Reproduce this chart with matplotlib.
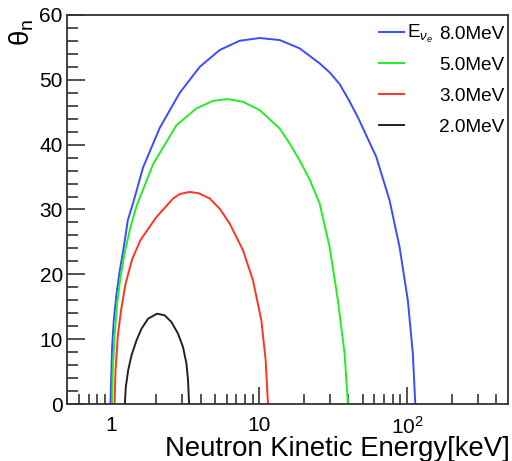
import matplotlib
matplotlib.use("Agg")
import matplotlib.pyplot as plt
from matplotlib.ticker import FixedLocator, FuncFormatter, NullFormatter

plt.rcParams['font.family'] = ['Liberation Sans', 'DejaVu Sans']
plt.rcParams['mathtext.fontset'] = 'custom'
plt.rcParams['mathtext.rm'] = 'Liberation Sans'
plt.rcParams['mathtext.it'] = 'Liberation Sans:italic'
plt.rcParams['mathtext.bf'] = 'Liberation Sans:bold'

# Neutron kinetic energy [keV] and angle theta_n [deg]
e8 = [0.984, 0.994, 1.009, 1.036, 1.081, 1.138, 1.211, 1.289, 1.40, 1.635, 2.12, 2.894,
      3.95, 5.39, 7.36, 10.05, 13.7, 18.7, 25.55, 30.0, 34.9, 40.0, 46.2, 61.7, 75.9,
      88.7, 100.9, 109.1, 113.3]
t8 = [0.0, 3.63, 8.77, 12.9, 17.02, 20.62, 24.22, 28.34, 31.0, 36.5, 42.6, 48.0,
      52.0, 54.6, 56.03, 56.45, 56.14, 54.86, 52.54, 51.1, 49.34, 47.0, 44.29, 38.12,
      31.43, 24.22, 15.98, 7.75, 0.0]

e5 = [1.009, 1.02, 1.048, 1.091, 1.15, 1.224, 1.344, 1.475, 1.91, 2.749, 3.753, 4.86,
      6.135, 7.75, 10.05, 13.7, 16.0, 18.7, 22.0, 25.55, 29.85, 33.97, 37.7, 39.7]
t5 = [0.0, 5.17, 10.32, 15.47, 19.58, 23.2, 27.3, 30.5, 37.0, 43.0, 45.6, 46.76,
      47.03, 46.61, 45.33, 42.5, 40.2, 37.6, 34.5, 30.92, 24.22, 15.98, 7.75, 0.0]

e3 = [1.048, 1.064, 1.103, 1.161, 1.243, 1.378, 1.57, 2.014, 2.608, 2.9, 3.38, 3.9,
      4.617, 5.4, 6.30, 7.75, 9.05, 10.31, 11.03, 11.43]
t3 = [0.0, 5.17, 10.5, 14.5, 18.5, 22.3, 25.3, 28.85, 31.69, 32.4, 32.71, 32.5,
      31.69, 30.1, 27.83, 23.71, 19.07, 12.9, 6.72, 0.0]

e2 = [1.230, 1.249, 1.295, 1.365, 1.475, 1.595, 1.767, 2.033, 2.292, 2.544, 2.818,
      3.046, 3.212, 3.293, 3.345]
t2 = [0.0, 2.59, 5.17, 7.49, 9.81, 11.61, 13.16, 13.93, 13.67, 12.63, 10.84,
      8.77, 6.21, 3.63, 0.0]

labels = ['8.0MeV', '5.0MeV', '3.0MeV', '2.0MeV']
colors = ['#3a4cff', '#22ee22', '#ff3322', '#222222']
energies = [e8, e5, e3, e2]
angles = [t8, t5, t3, t2]

x_major = [1, 10, 100]
x_labels = {1: '1', 10: '10', 100: r'$10^{2}$'}

fig = plt.figure(figsize=(5.12, 4.61), dpi=100)
ax = fig.add_axes([67 / 512, 57 / 461, (508 - 67) / 512, (404 - 15) / 461])

for e, t, c, lab in zip(energies, angles, colors, labels):
    ax.plot(e, t, color=c, lw=1.4, label=lab, solid_joinstyle='round')

ax.set_xscale('log')
ax.set_xlim(0.5, 480)
ax.set_ylim(0, 60)

ax.xaxis.set_major_locator(FixedLocator(x_major))
ax.xaxis.set_major_formatter(FuncFormatter(lambda v, p: x_labels.get(int(round(v)), '')))
minors = [m * 10.0 ** k for k in (-1, 0, 1, 2) for m in range(2, 10)]
ax.xaxis.set_minor_locator(FixedLocator([v for v in minors if 0.5 <= v <= 480]))
ax.xaxis.set_minor_formatter(NullFormatter())
ax.set_yticks(range(0, 61, 10))
ax.set_yticks(range(0, 61, 2), minor=True)

ax.tick_params(which='both', direction='in', top=False, right=False, color='#333333', width=1.2)
ax.tick_params(axis='y', which='major', length=13, labelsize=15, pad=3)
ax.tick_params(axis='y', which='minor', length=8)
ax.tick_params(axis='x', which='major', length=12, labelsize=15, pad=8.5)
ax.tick_params(axis='x', which='minor', length=7)
for s in ax.spines.values():
    s.set_color('#333333')
    s.set_linewidth(1.3)

ax.set_xlabel('Neutron Kinetic Energy[keV]', fontsize=19.8, loc='right')
ax.xaxis.label.set_va('baseline')
ax.xaxis.set_label_coords(1.005, (5 - 57) / 389)
ax.set_ylabel(r'θ$_{\mathrm{n}}$', fontsize=20, loc='top')
ax.yaxis.label.set_va('center')
ax.yaxis.set_label_coords((22 - 67) / 441, 0.99)

leg = ax.legend(loc='upper right', bbox_to_anchor=(1.009, 0.993), frameon=False,
                fontsize=13.7, handlelength=1.3, handletextpad=1.85, labelspacing=0.72,
                borderaxespad=0.0)
ax.annotate(r'$\mathrm{E}_{\nu_{e}}$', xy=(0, 0.5), xycoords=leg.get_texts()[0],
            xytext=(-4, 0), textcoords='offset points', ha='right', va='center',
            fontsize=13.7, zorder=10, annotation_clip=False)

fig.savefig('out.png', dpi=100)
